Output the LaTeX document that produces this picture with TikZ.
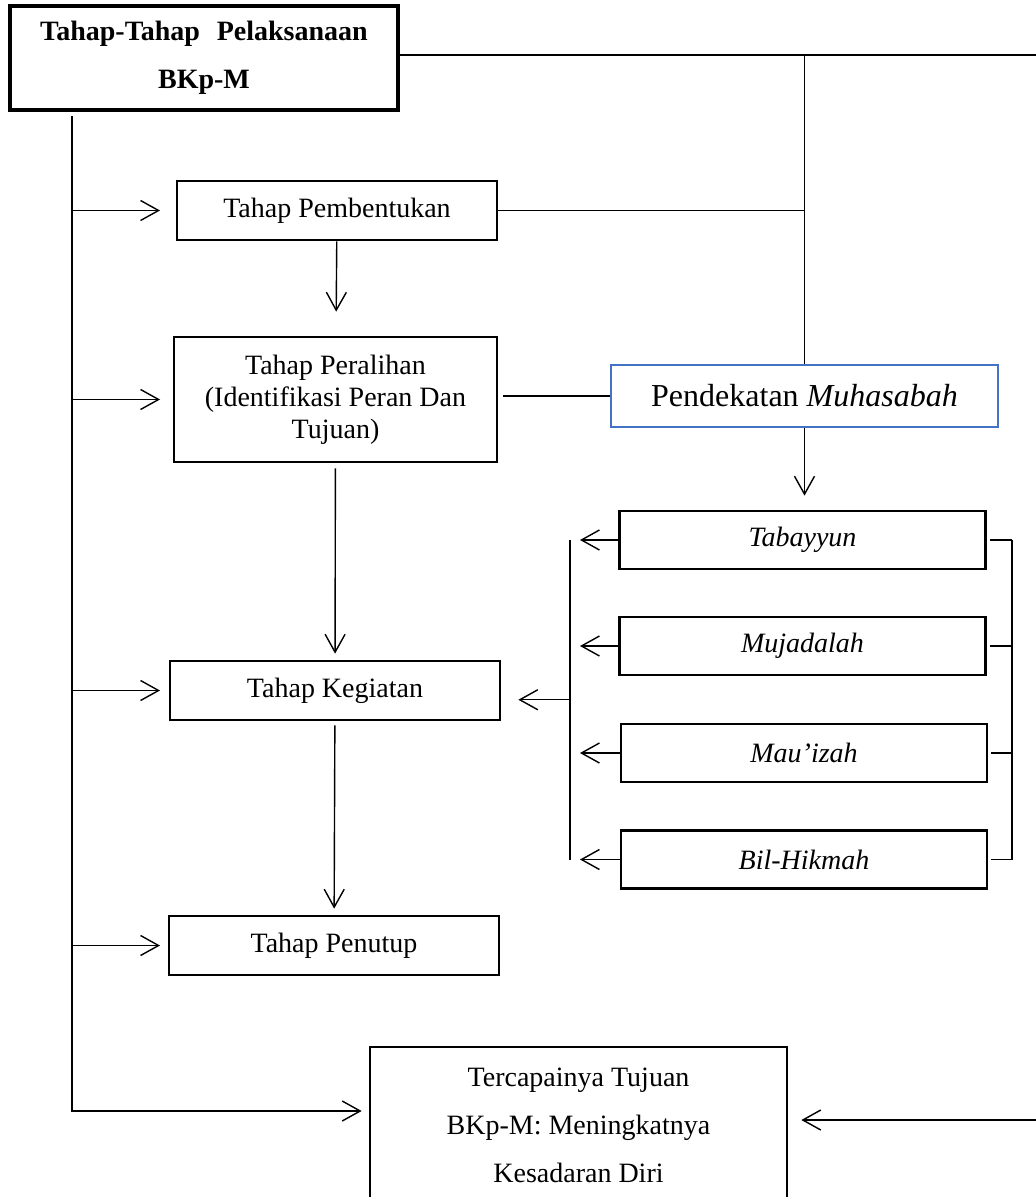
\documentclass[tikz,border=0pt]{standalone}
\usepackage{fontspec}
\setmainfont{Liberation Serif}
\usepackage{xcolor}
\usetikzlibrary{arrows.meta,calc}
\definecolor{bdrblue}{HTML}{4472C4}

\begin{document}
\begin{tikzpicture}[x=0.5pt,y=-0.5pt,font=\fontsize{14}{16}\selectfont,
  box/.style={draw,line width=1.35pt,minimum width=160pt,minimum height=29.5pt,align=center,inner sep=2pt},
  mbox/.style={draw,line width=1.35pt,minimum width=183pt,minimum height=29pt,font=\fontsize{14}{16}\selectfont\itshape},
  ln/.style={line width=0.7pt},
  arr/.style={ln,-{Straight Barb[length=9pt,width=10pt,line width=0.7pt]}},>=Stealth]
  \useasboundingbox (0,0) rectangle (1036,1197);
  % kolom kiri
  \node[box,line width=1.6pt,minimum width=194pt,minimum height=52pt,font=\fontsize{14}{24}\selectfont\bfseries] (ttl) at (204,58)
   {Tahap-Tahap\hspace{0.6em}Pelaksanaan\\BKp-M};
  \node[box] (bentuk) at (337,210.5) {Tahap Pembentukan};
  \node[box,minimum width=161.5pt,minimum height=62.5pt] (alih) at (335.5,399.5)
   {Tahap Peralihan\\(Identifikasi Peran Dan\\Tujuan)};
  \node[box,minimum width=165pt] (giat) at (335,690.5) {Tahap Kegiatan};
  \node[box,minimum width=165pt] (tutup) at (334,945.5) {Tahap Penutup};
  \node[box,minimum width=208.5pt,minimum height=78pt,font=\fontsize{14}{24}\selectfont] (capai) at (578.5,1125)
   {Tercapainya Tujuan\\BKp-M: Meningkatnya\\Kesadaran Diri};
  % kolom kanan
  \node[draw=bdrblue,line width=1pt,minimum width=193.5pt,minimum height=31pt,font=\fontsize{16}{18}\selectfont] (muh) at (804.5,396)
   {Pendekatan \textit{Muhasabah}};
  \node[mbox] (tab) at (802.5,540) {Tabayyun};
  \node[mbox] (muj) at (802.5,646) {Mujadalah};
  \node[mbox] (mau) at (804,753) {Mau’izah};
  \node[mbox] (bil) at (804,859.5) {Bil-Hikmah};
  \coordinate (trk) at (72,116);
  \coordinate (tip) at (160,0);
  \coordinate (rgt) at (1040,55);
  \coordinate (lb) at (570,0);
  \coordinate (rb) at (1012,0);
  % garis utama
  \foreach \n in {bentuk,alih,giat,tutup}
    \draw[arr] (trk |- \n) -- (tip |- \n);
  \draw[arr,shorten >=3.5pt] (trk) |- ([yshift=7pt]capai.west);
  \draw[arr,shorten >=6.5pt] (ttl.east |- rgt) -- (rgt) |- ([yshift=2.5pt]capai.east);
  \draw[arr,shorten >=12pt] (bentuk) -- (alih);
  \draw[arr,shorten <=2.5pt,shorten >=3pt] (alih) -- (giat);
  \draw[arr,shorten <=2pt,shorten >=3pt] (giat) -- (tutup);
  % ke pendekatan
  \draw[ln] (muh.north) -- (muh.north |- rgt);
  \draw[ln] (bentuk.east) -- (bentuk.east -| muh.north);
  \draw[ln,shorten <=2.5pt] (alih.east |- muh.west) -- (muh.west);
  \draw[arr,shorten >=7pt] (muh.south) -- (muh.south |- tab.north);
  % kurung kanan dan kiri
  \draw[ln] (lb |- tab) -- (lb |- bil);
  \draw[ln] (rb |- tab) -- (rb |- bil);
  \foreach \n in {tab,muj,mau,bil}{
    \draw[arr,shorten >=5pt] (\n.west) -- (\n.west -| lb);
    \draw[ln,shorten <=1.5pt] (\n.east) -- (\n.east -| rb);
  }
  \coordinate (mid) at ($(lb |- tab)!0.5!(lb |- bil)$);
  \draw[arr,shorten >=8.5pt] (mid) -- (mid -| giat.east);
\end{tikzpicture}
\end{document}
